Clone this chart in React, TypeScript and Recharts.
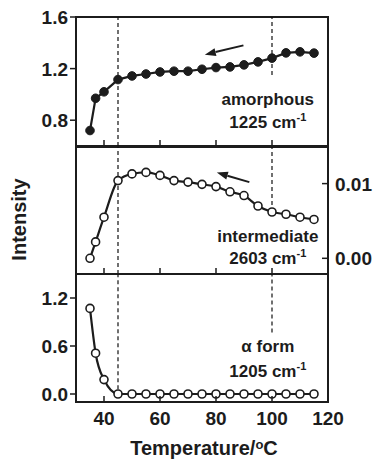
import React from 'react';
import { LineChart, Line, XAxis, YAxis, ReferenceLine, ReferenceArea, ReferenceDot } from 'recharts';

// temperatures (cooling run)
const temps = [35, 37, 40, 45, 50, 55, 60, 65, 70, 75, 80, 85, 90, 95, 100, 105, 110, 115];
const amorphous = [0.72, 0.97, 1.02, 1.115, 1.143, 1.158, 1.174, 1.18, 1.18, 1.195, 1.208, 1.213, 1.229, 1.252, 1.281, 1.322, 1.33, 1.32];
const intermediate = [0.0, 0.0022, 0.0055, 0.0104, 0.0113, 0.0115, 0.0111, 0.0104, 0.0102, 0.0099, 0.0096, 0.0089, 0.0084, 0.007, 0.0062, 0.0059, 0.0055, 0.0052];
const alphaForm = [1.07, 0.51, 0.18, 0, 0, 0, 0, 0, 0, 0, 0, 0, 0, 0, 0, 0, 0, 0];

const xTicks = [40, 60, 80, 100, 120];
const topTicks = [0.8, 1.2, 1.6];
const midTicks = [0, 0.01];
const botTicks = [0, 0.6, 1.2];

const INK = '#1c1c1c';
const FONT = '"Liberation Sans", Arial, Helvetica, sans-serif';

const rows = temps.map((t, i) => ({ t, am: amorphous[i], im: intermediate[i], al: alphaForm[i] }));

const txt = { fontFamily: FONT, fontWeight: 700, fill: INK };

// x ticks point up into the panel
const XTick = (props: any) => {
  const { x, y, payload, showLabel } = props;
  return (
    <g>
      <line x1={x} y1={y} x2={x} y2={y - 6} stroke={INK} strokeWidth={1.5} />
      {showLabel && (
        <text x={x} y={y + 23} textAnchor="middle" fontSize={19} {...txt}>
          {payload.value}
        </text>
      )}
    </g>
  );
};

const LeftTick = (props: any) => {
  const { x, y, payload, digits, inward, showLabel } = props;
  return (
    <g>
      {inward ? (
        <line x1={x} y1={y} x2={x + 6} y2={y} stroke={INK} strokeWidth={1.5} />
      ) : (
        <line x1={x - 6} y1={y} x2={x} y2={y} stroke={INK} strokeWidth={1.5} />
      )}
      {showLabel && (
        <text x={x - 8} y={y + 7} textAnchor="end" fontSize={19} {...txt}>
          {Number(payload.value).toFixed(digits)}
        </text>
      )}
    </g>
  );
};

const RightTick = (props: any) => {
  const { x, y, payload } = props;
  return (
    <g>
      <line x1={x - 6} y1={y} x2={x} y2={y} stroke={INK} strokeWidth={1.5} />
      <text x={x + 7} y={y + 7} textAnchor="start" fontSize={19} {...txt}>
        {Number(payload.value).toFixed(2)}
      </text>
    </g>
  );
};

const Arrow = (props: any) => {
  const { x1, y1, x2, y2 } = props;
  const ang = Math.atan2(y2 - y1, x2 - x1);
  const len = 11;
  const w = 4;
  const bx = x2 - len * Math.cos(ang);
  const by = y2 - len * Math.sin(ang);
  const px = -Math.sin(ang) * w;
  const py = Math.cos(ang) * w;
  return (
    <g>
      <line x1={x1} y1={y1} x2={bx} y2={by} stroke={INK} strokeWidth={2} />
      <polygon points={`${x2},${y2} ${bx + px},${by + py} ${bx - px},${by - py}`} fill={INK} />
    </g>
  );
};

const note = (name: string, wn: string, gap: number) => (p: any) => {
  const vb = p.viewBox || { x: 0, y: 0, width: 0, height: 0 };
  const cx = vb.x + vb.width / 2;
  const cy = vb.y + vb.height / 2;
  return (
    <text x={cx} y={cy} textAnchor="middle" fontSize={17} {...txt}>
      <tspan x={cx}>{name}</tspan>
      <tspan x={cx} dy={gap}>
        {wn} cm<tspan dy={-7} fontSize={11}>-1</tspan>
      </tspan>
    </text>
  );
};

const dash = { stroke: '#111', strokeWidth: 1.2, strokeDasharray: '4 3' };
const filledDot = { r: 4.3, fill: INK, stroke: INK, strokeWidth: 1 };
const openDot = { r: 4, fill: '#fff', stroke: INK, strokeWidth: 1.6 };

const App = () => {
  return (
    <div style={{ position: 'absolute', left: 0, top: 0, width: 375, height: 459, background: '#fff' }}>
      {/* amorphous */}
      <div style={{ position: 'absolute', left: 0, top: 0 }}>
        <LineChart width={375} height={150} data={rows} margin={{ top: 17, right: 47, bottom: 0, left: 0 }}>
          <XAxis type="number" dataKey="t" domain={[30, 120]} ticks={xTicks} interval={0} height={4}
            axisLine={false} tickLine={false} tickSize={0} tickMargin={0} tick={<XTick />} />
          <YAxis type="number" domain={[0.6, 1.6]} ticks={topTicks} interval={0} width={76}
            axisLine={false} tickLine={false} tickSize={0} tickMargin={0} tick={<LeftTick digits={1} showLabel />} />
          <ReferenceArea x1={30} x2={120} y1={0.6} y2={1.6} fill="none" stroke={INK} strokeWidth={2} />
          <ReferenceLine segment={[{ x: 45, y: 0.6 }, { x: 45, y: 1.6 }]} {...dash} />
          <ReferenceLine segment={[{ x: 100, y: 1.15 }, { x: 100, y: 1.6 }]} {...dash} />
          <ReferenceLine segment={[{ x: 89.8, y: 1.38 }, { x: 76, y: 1.308 }]} shape={<Arrow />} />
          <ReferenceDot x={98.5} y={0.918} r={1} fill="none" stroke="none" label={note('amorphous', '1225', 23)} />
          <Line type="linear" dataKey="am" stroke={INK} strokeWidth={2.2} dot={filledDot} activeDot={false} isAnimationActive={false} />
        </LineChart>
      </div>

      {/* intermediate */}
      <div style={{ position: 'absolute', left: 0, top: 140 }}>
        <LineChart width={375} height={140} data={rows} margin={{ top: 7, right: 0, bottom: 0, left: 0 }}>
          <XAxis type="number" dataKey="t" domain={[30, 120]} ticks={xTicks} interval={0} height={6}
            axisLine={false} tickLine={false} tickSize={0} tickMargin={0} tick={<XTick />} />
          <YAxis yAxisId="l" type="number" domain={[-0.0021, 0.0149]} ticks={[0]} interval={0} width={76}
            axisLine={false} tickLine={false} tickSize={0} tickMargin={0} tick={<LeftTick digits={2} inward />}
            label={(p: any) => {
              const vb = p.viewBox || { x: 0, y: 7, width: 76, height: 127 };
              const cy = vb.y + vb.height / 2 + 9;
              return (
                <text x={26} y={cy} transform={`rotate(-90 26 ${cy})`} textAnchor="middle" fontSize={20} {...txt}>
                  Intensity
                </text>
              );
            }} />
          <YAxis yAxisId="r" orientation="right" type="number" domain={[-0.0021, 0.0149]} ticks={midTicks} interval={0} width={47}
            axisLine={false} tickLine={false} tickSize={0} tickMargin={0} tick={<RightTick />} />
          <ReferenceArea yAxisId="r" x1={30} x2={120} y1={-0.0021} y2={0.0149} fill="none" stroke={INK} strokeWidth={2} />
          <ReferenceLine yAxisId="r" segment={[{ x: 45, y: -0.0021 }, { x: 45, y: 0.0149 }]} {...dash} />
          <ReferenceLine yAxisId="r" segment={[{ x: 100, y: 0.0062 }, { x: 100, y: 0.0149 }]} {...dash} />
          <ReferenceLine yAxisId="r" segment={[{ x: 91.9, y: 0.0102 }, { x: 80.3, y: 0.01147 }]} shape={<Arrow />} />
          <ReferenceDot yAxisId="r" x={98.5} y={0.00221} r={1} fill="none" stroke="none" label={note('intermediate', '2603', 22)} />
          <Line yAxisId="r" type="monotone" dataKey="im" stroke={INK} strokeWidth={2.2} dot={openDot} activeDot={false} isAnimationActive={false} />
        </LineChart>
      </div>

      {/* alpha form */}
      <div style={{ position: 'absolute', left: 0, top: 270 }}>
        <LineChart width={375} height={189} data={rows} margin={{ top: 4, right: 47, bottom: 0, left: 0 }}>
          <XAxis type="number" dataKey="t" domain={[30, 120]} ticks={xTicks} interval={0} height={57}
            axisLine={false} tickLine={false} tickSize={0} tickMargin={0} tick={<XTick showLabel />}
            label={(p: any) => {
              const vb = p.viewBox || { x: 76, y: 132, width: 252, height: 57 };
              const cx = vb.x + vb.width / 2 + 2;
              return (
                <text x={cx} y={vb.y + 53} textAnchor="middle" fontSize={20} {...txt}>
                  Temperature/<tspan fontSize={13} dy={-6}>o</tspan><tspan dy={6}>C</tspan>
                </text>
              );
            }} />
          <YAxis type="number" domain={[-0.1, 1.5]} ticks={botTicks} interval={0} width={76}
            axisLine={false} tickLine={false} tickSize={0} tickMargin={0} tick={<LeftTick digits={1} showLabel />} />
          <ReferenceArea x1={30} x2={120} y1={-0.1} y2={1.5} fill="none" stroke={INK} strokeWidth={2} />
          <ReferenceLine segment={[{ x: 45, y: 0.06 }, { x: 45, y: 1.5 }]} {...dash} />
          <ReferenceLine segment={[{ x: 100, y: 0.77 }, { x: 100, y: 1.5 }]} {...dash} />
          <ReferenceDot x={98.5} y={0.531} r={1} fill="none" stroke="none" label={note('\u03b1 form', '1205', 25)} />
          <Line type="monotone" dataKey="al" stroke={INK} strokeWidth={2.2} dot={openDot} activeDot={false} isAnimationActive={false} />
        </LineChart>
      </div>
    </div>
  );
};

export default App;
